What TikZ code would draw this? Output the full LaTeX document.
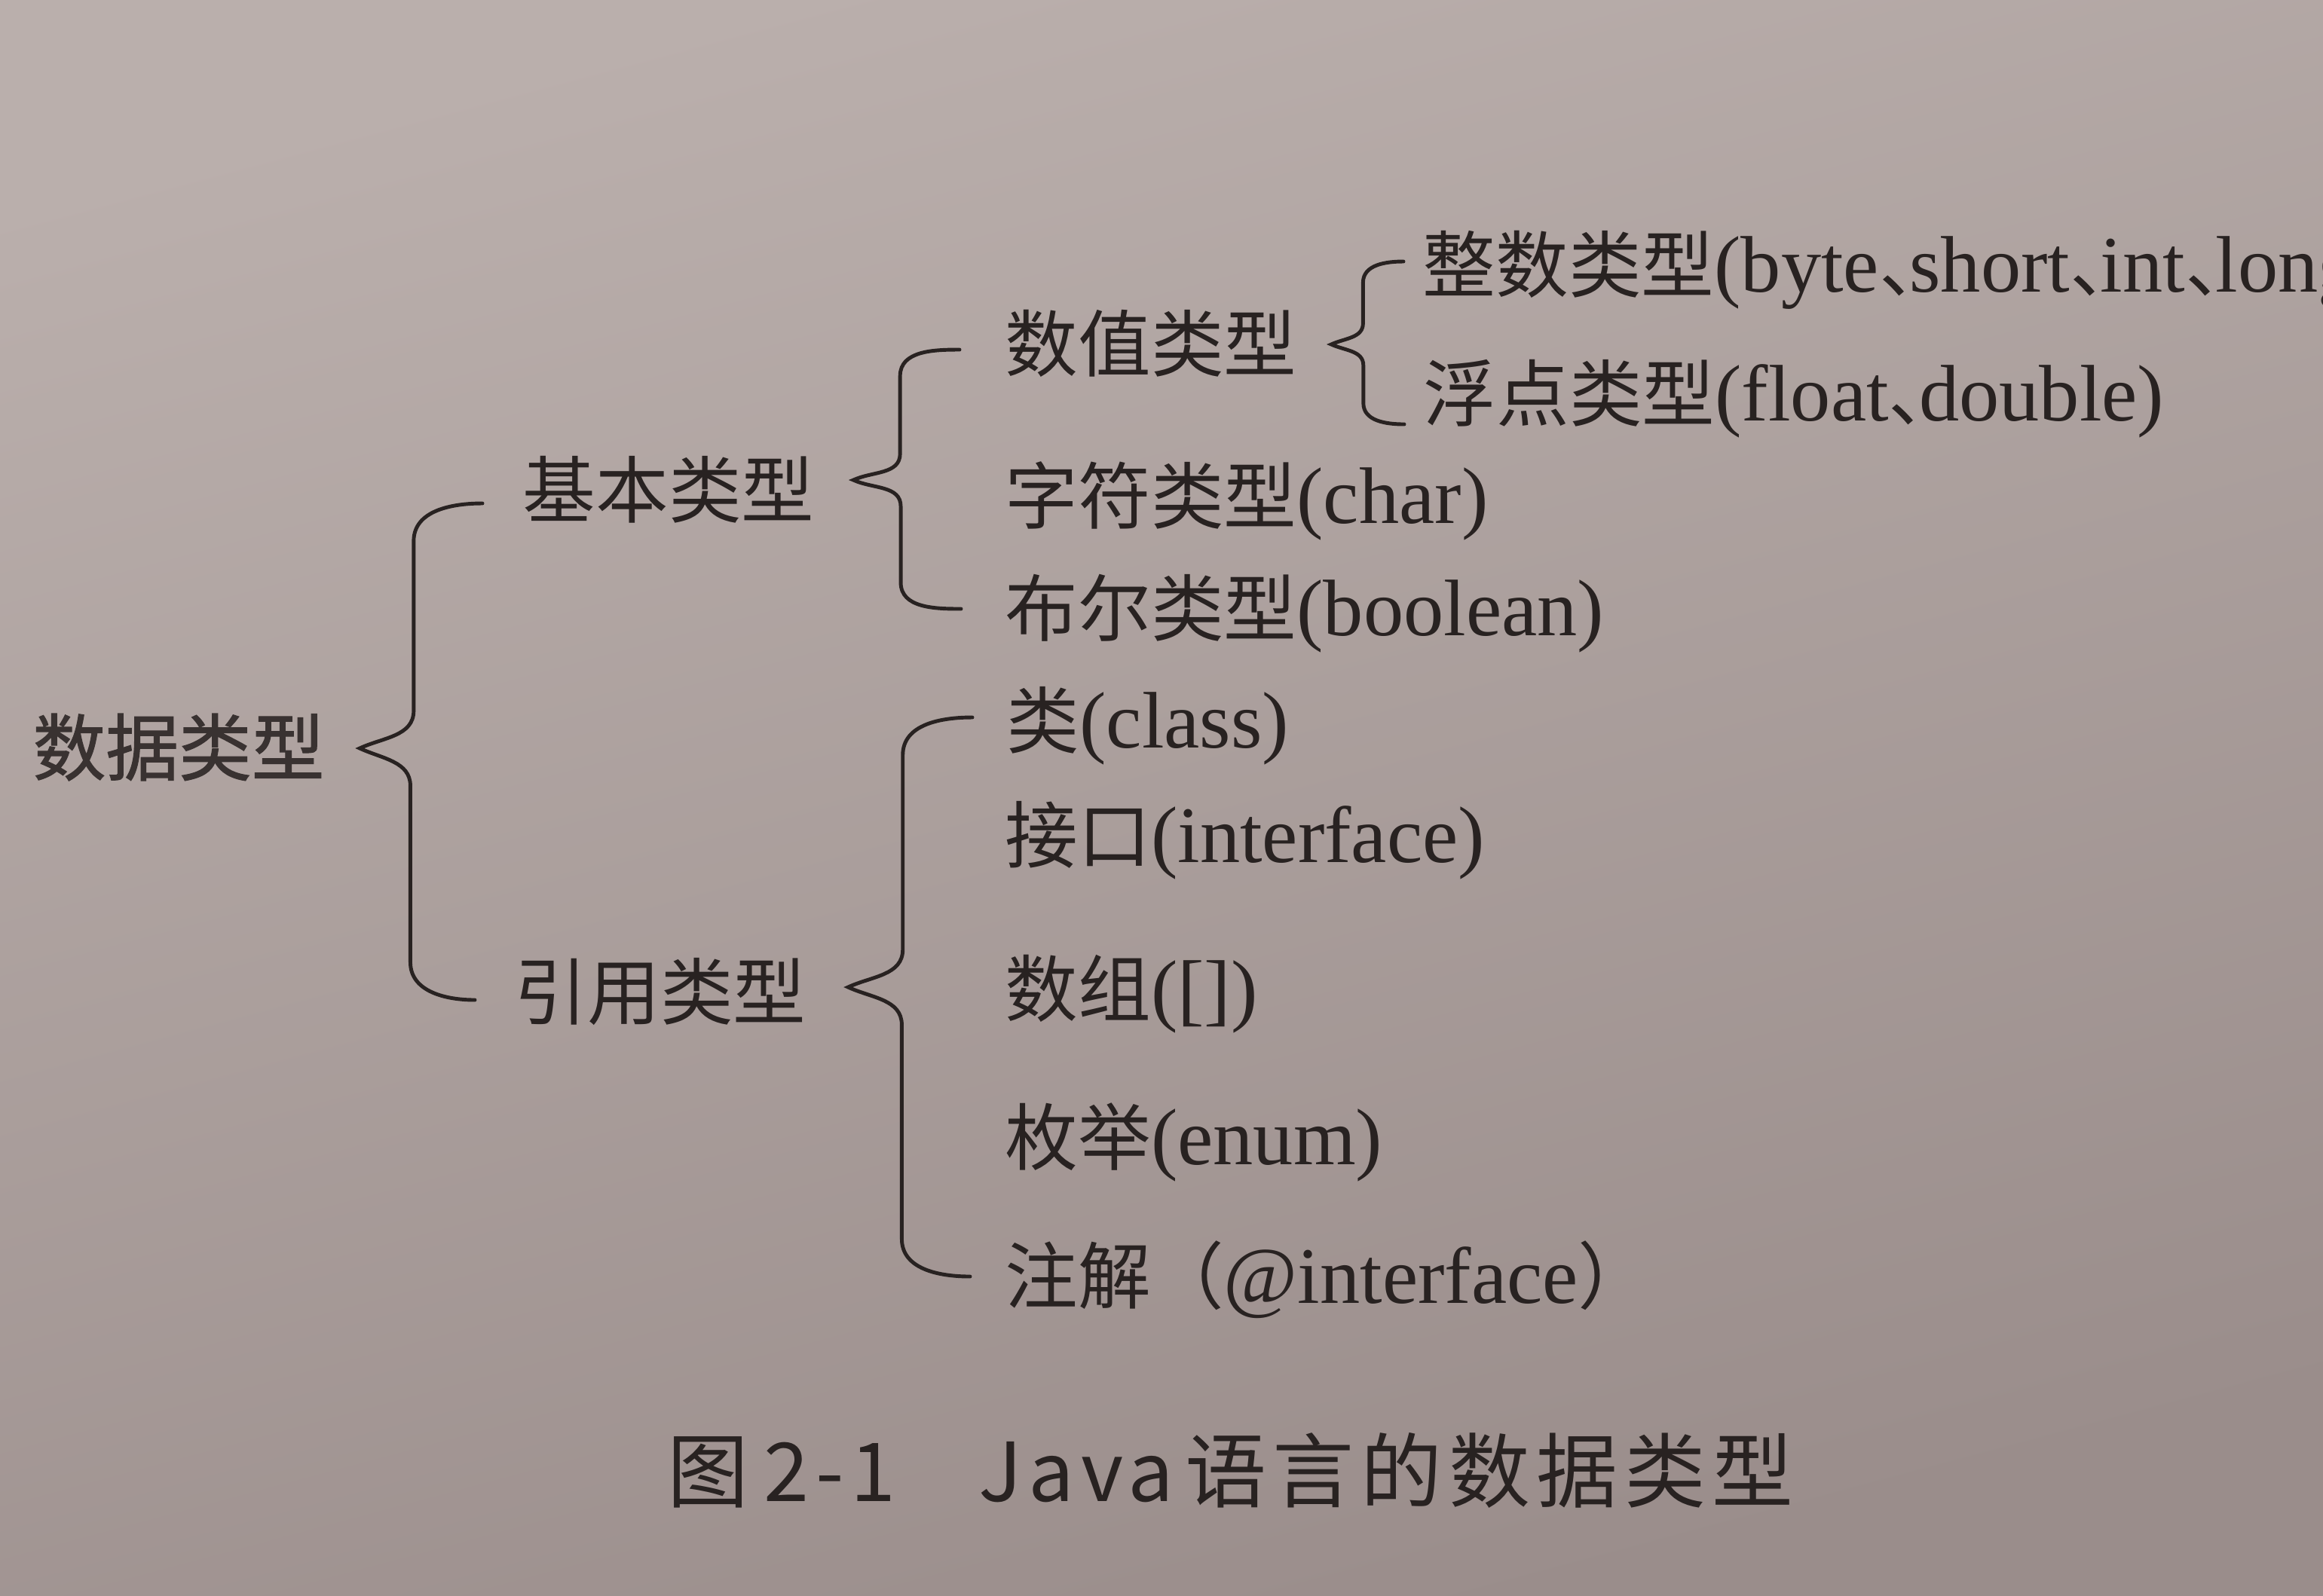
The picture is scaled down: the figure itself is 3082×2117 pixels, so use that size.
\documentclass[tikz,border=0pt]{standalone}
\usepackage{fontspec}
\setmainfont[Scale=1.1]{Liberation Serif}
\newfontfamily\cjk{Noto Sans CJK SC}
\newfontfamily\cjkroot[FakeBold=1.2]{Noto Sans CJK SC}
\newfontfamily\capfont[LetterSpace=8]{Noto Sans CJK SC}
\usetikzlibrary{calc}

\definecolor{ink}{RGB}{40,34,33}
\definecolor{paperlight}{RGB}{186,175,172}
\definecolor{paperdark}{RGB}{154,141,139}

\newcommand{\zh}[1]{{\cjk #1}}
\newcommand{\dun}{\makebox[0.38em][l]{\cjk 、}}
% curly brace: top end, bottom end, tip, curl length
\newcommand{\curly}[4]{%
  \draw[brc] (#1) to[out=180,in=90] ($(#1)!.56!(#3 |- #1)+(0,-#4)$)
    -- ($(#3)!.44!(#1 |- #3)+(0,#4)$) to[out=-90,in=25] (#3)
    to[out=-25,in=90] ($(#3)!.44!(#2 |- #3)+(0,-#4)$)
    -- ($(#2)!.56!(#3 |- #2)+(0,#4)$) to[out=-90,in=180] (#2);}

\begin{document}
\begin{tikzpicture}[
    x=0.01cm, y=0.01cm,
    every node/.style={inner sep=0pt, text=ink},
    item/.style={anchor=west, font=\fontsize{27.5}{30}\selectfont, text height=24pt, text depth=4pt},
    root/.style={item, text=ink!85!paperdark, font=\fontsize{27.5}{30}\selectfont\cjkroot},
    caption/.style={anchor=west, font=\fontsize{30.7}{33}\selectfont\capfont, text height=27pt, text depth=4pt},
    brc/.style={draw=ink, line width=1.4pt, line cap=round}
]

% Page
\useasboundingbox (0,0) rectangle (3082,-2117);
\clip (0,0) rectangle (3082,-2117);
\shade[top color=paperlight, bottom color=paperdark, shading angle=15] (0,0) rectangle (3082,-2117);

% Nodes
\node[root] (data) at (43,-993) {数据类型};
\node[item] (basic) at (693,-651) {\zh{基本类型}};
\node[item] (ref) at (682,-1317) {\zh{引用类型}};
\node[item] (num) at (1333,-457) {\zh{数值类型}};
\node[item] (int) at (1887,-352) {\zh{整数类型}(byte\dun short\dun int\dun long)};
\node[item] (float) at (1888,-523) {\zh{浮点类型}(float\dun double)};
\node[item] (chr) at (1333,-659) {\zh{字符类型}(char)};
\node[item] (bool) at (1333,-808) {\zh{布尔类型}(boolean)};
\node[item] (cls) at (1335,-957) {\zh{类}(class)};
\node[item] (iface) at (1333,-1109) {\zh{接口}(interface)};
\node[item] (arr) at (1333,-1313) {\zh{数组}([])};
\node[item] (enm) at (1333,-1510) {\zh{枚举}(enum)};
\node[item] (anno) at (1333,-1694) {\zh{注解（}@interface\zh{）}};
\node[caption] (cap) at (885,-1952) {图\hspace{0.2cm}2-1\hspace{1.1cm}Java\hspace{0.15cm}语言的数据类型};

% Brace ends and tips
\coordinate (t0) at ($(data.east)+(46,0)$);
\coordinate (a0) at ($(basic.west)+(-53,-17)$);
\coordinate (z0) at ($(ref.west)+(-52,-10)$);
\coordinate (t1) at ($(basic.east)+(51,14)$);
\coordinate (a1) at ($(num.west)+(-60,-7)$);
\coordinate (z1) at ($(bool.west)+(-58,0)$);
\coordinate (t2) at ($(num.east)+(45,0)$);
\coordinate (a2) at ($(int.west)+(-25,5)$);
\coordinate (z2) at ($(float.west)+(-25,-40)$);
\coordinate (t3) at ($(ref.east)+(55,7)$);
\coordinate (a3) at ($(cls.west)+(-45,5)$);
\coordinate (z3) at ($(anno.west)+(-46,0)$);

% Braces
\curly{a0}{z0}{t0}{50}
\curly{a1}{z1}{t1}{35}
\curly{a2}{z2}{t2}{28}
\curly{a3}{z3}{t3}{50}

\end{tikzpicture}
\end{document}
